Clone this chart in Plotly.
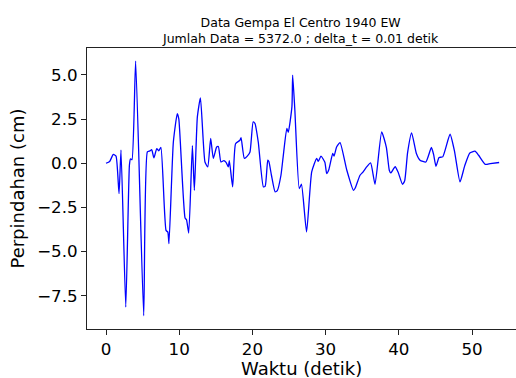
import plotly.graph_objects as go

# Time (s) and displacement (cm)
waktu = [0.0, 0.5, 1.0, 1.37, 1.78, 2.05, 2.7, 3.2, 3.35, 3.55, 4.05, 5.15,
         5.65, 6.0, 6.24, 6.55, 6.93, 7.2, 7.5, 8.2, 8.45, 8.6, 9.2, 9.74,
         9.95, 10.8, 11.0, 11.3, 11.8, 12.07, 12.48, 12.9, 13.52, 13.9, 14.3,
         14.66, 15.12, 15.35, 15.7, 16.1, 16.4, 16.7, 16.85, 17.3, 17.7, 18.3,
         18.45, 18.9, 19.3, 19.67, 20.1, 20.35, 20.8, 21.5, 21.75, 22.1, 22.25,
         22.6, 23.1, 23.4, 23.9, 24.2, 24.7, 24.9, 25.4, 25.5, 25.8, 26.4, 26.7,
         27.4, 28.1, 28.78, 29.0, 29.37, 29.9, 30.15, 30.45, 30.97, 31.15, 31.5,
         31.97, 32.9, 33.8, 34.05, 34.7, 35.1, 35.6, 36.15, 36.75, 37.66, 38.3,
         38.7, 38.9, 39.5, 39.9, 40.5, 40.8, 41.2, 41.75, 42.4, 42.9, 43.7,
         44.45, 44.75, 45.08, 45.5, 46.0, 47.0, 47.6, 48.36, 49.0, 49.7, 50.4,
         50.9, 51.8, 52.5, 53.71]
perpindahan = [0.0, 0.1, 0.5, 0.4, -1.72, 0.74, -8.14, -0.1, 0.25, 0.2, 5.78,
               -8.63, 0.64, 0.7, 0.77, 0.3, 0.83, 0.7, 0.89, -3.8, -3.9, -4.55,
               1.2, 2.81, 2.5, -3.1, -3.2, -3.95, 1.0, -1.53, 2.62, 3.7, 0.07,
               -0.21, 1.4, 0.27, 0.92, 0.95, 0.07, 0.15, 0.05, -0.21, 0.15, -1.34,
               1.1, 1.3, 1.45, 0.27, 0.4, 0.64, 2.34, 2.25, 1.2, -1.34, -1.3,
               0.17, 0.1, -0.68, -1.62, -1.55, -0.68, 0.36, 1.97, 1.75, 3.2, 4.99,
               3.0, -1.43, -1.19, -3.89, -0.49, 0.27, 0.1, 0.4, 0.05, -0.58, -0.35,
               0.55, 0.4, 0.92, 1.17, -0.4, -1.53, -1.4, -0.68, -0.5, -0.21, 0.02,
               -1.19, 1.77, 0.9, -0.4, -0.55, -0.2, -0.5, -1.19, -1.0, 0.6, 1.72,
               0.55, 0.17, 0.07, 0.89, 0.5, -0.17, 0.32, 0.36, 1.64, 0.7, -1.06,
               -0.15, 0.58, 0.68, 0.45, -0.06, -0.02, 0.04]

x_ticks = [0, 10, 20, 30, 40, 50]
y_ticks = [-7.5, -5.0, -2.5, 0.0, 2.5, 5.0]

judul = "Data Gempa El Centro 1940 EW<br>Jumlah Data = 5372.0 ; delta_t = 0.01 detik"

fig = go.Figure()
fig.add_trace(go.Scatter(x=waktu, y=perpindahan, mode="lines",
                         line=dict(color="#0000ff", width=1.3, shape="spline", smoothing=0.5),
                         showlegend=False, hoverinfo="skip"))

FONT = "DejaVu Sans"
fig.update_layout(
    width=516, height=378,
    margin=dict(l=87, r=0, t=48, b=49),
    paper_bgcolor="white", plot_bgcolor="white",
    font=dict(family=FONT, color="black"),
    xaxis=dict(range=[-2.596, 56.01], tickvals=x_ticks, ticktext=[str(v) for v in x_ticks],
               showgrid=False, zeroline=False, showline=True, mirror=True,
               linecolor="#222", linewidth=1, ticks="outside", ticklen=5,
               tickcolor="#222", tickfont=dict(size=16.7, family=FONT, color="black")),
    yaxis=dict(range=[-9.38, 6.52], tickvals=y_ticks, tickformat=".1f",
               showgrid=False, zeroline=False, showline=True, mirror=False,
               linecolor="#222", linewidth=1, ticks="outside", ticklen=5,
               tickcolor="#222", tickfont=dict(size=16.7, family=FONT, color="black")),
    annotations=[
        dict(text=judul, x=0.4988, y=1.064, xref="paper", yref="paper",
             xanchor="center", yanchor="middle", showarrow=False,
             font=dict(size=12.5, family=FONT, color="black")),
        dict(text="Waktu (detik)", x=0.499, y=-0.142, xref="paper", yref="paper",
             xanchor="center", yanchor="middle", showarrow=False,
             font=dict(size=18, family=FONT, color="black")),
        dict(text="Perpindahan (cm)", x=-0.163, y=0.5, xref="paper", yref="paper",
             xanchor="center", yanchor="middle", showarrow=False, textangle=-90,
             font=dict(size=18, family=FONT, color="black")),
    ],
)

fig.write_html("out.html")
